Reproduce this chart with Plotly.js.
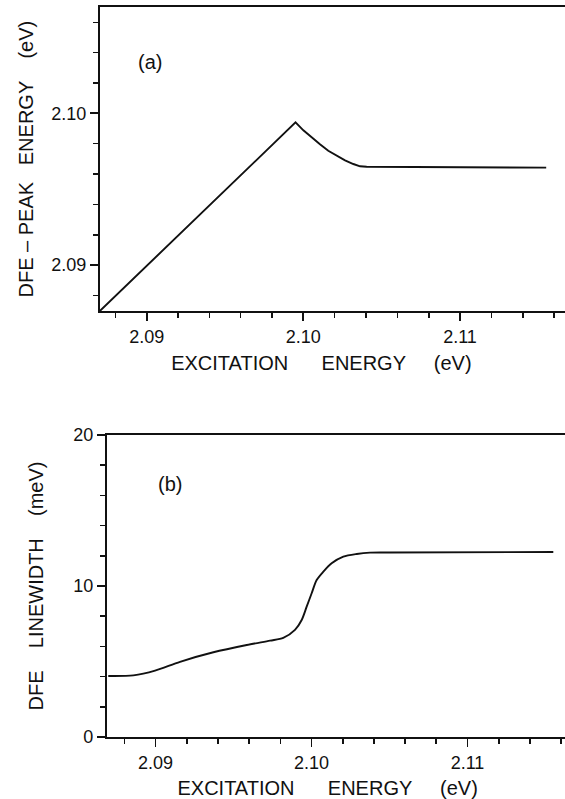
<!DOCTYPE html>
<html>
<head>
<meta charset="utf-8">
<script src="https://cdn.plot.ly/plotly-3.0.1.min.js"></script>
<style>
  html, body { margin: 0; padding: 0; background: #fff; }
  #chart { width: 565px; height: 799px; }
</style>
</head>
<body>
<div id="chart"></div>
<script>
// Panel (a): DFE peak energy vs excitation energy (eV)
const excA = [2.08702, 2.0995, 2.10000, 2.10053, 2.10106, 2.10159, 2.10213, 2.10266, 2.10319, 2.10362, 2.10404, 2.1155];
const peakA = [2.08698, 2.0994, 2.09888, 2.09839, 2.09796, 2.09753, 2.09719, 2.09690, 2.09666, 2.09651, 2.09648, 2.09642];

// Panel (b): DFE linewidth (meV) vs excitation energy (eV)
const excB = [2.08697, 2.08858, 2.08997, 2.09157, 2.09371, 2.09585, 2.09734, 2.09819, 2.09894,
              2.09937, 2.09969, 2.10001, 2.10033, 2.10076, 2.10129, 2.10204, 2.10290, 2.10375,
              2.10503, 2.1155];
const widthB = [4.04, 4.08, 4.39, 4.98, 5.61, 6.09, 6.38, 6.56, 7.09,
                7.75, 8.63, 9.52, 10.40, 10.95, 11.50, 11.94, 12.12, 12.21,
                12.22, 12.25];

const xTickVals = [2.09, 2.10, 2.11];
const xTickText = ['2.09', '2.10', '2.11'];
const yTickValsA = [2.09, 2.10];
const yTickTextA = ['2.09', '2.10'];
const yTickValsB = [0, 10, 20];
const yTickTextB = ['0', '10', '20'];

const NB = '\u00a0';
const sp = n => NB.repeat(n);
const ZW = '\u200b';

const ink = '#111111';
const font = {family: '"Liberation Sans", Arial, Helvetica, sans-serif', color: ink};

const W = 565, H = 799;

const traces = [
  {x: excA, y: peakA, xaxis: 'x', yaxis: 'y', mode: 'lines', type: 'scatter',
   line: {color: ink, width: 1.9}, hoverinfo: 'skip', showlegend: false},
  {x: excB, y: widthB, xaxis: 'x2', yaxis: 'y2', mode: 'lines', type: 'scatter',
   line: {color: ink, width: 1.9, shape: 'spline', smoothing: 0.8}, hoverinfo: 'skip', showlegend: false}
];

function xAxis(domain, range, anchor, titleText) {
  return {
    domain: domain, range: range, anchor: anchor,
    showline: true, linecolor: ink, linewidth: 2.2, mirror: true,
    ticks: 'outside', ticklen: 8, tickwidth: 1.8, tickcolor: ink,
    tickvals: xTickVals, ticktext: xTickText,
    minor: {dtick: 0.002, tick0: 2.09, ticks: 'outside', ticklen: 5, tickwidth: 1.6, tickcolor: ink, showgrid: false},
    showgrid: false, zeroline: false,
    tickfont: Object.assign({size: 18}, font),
    title: {text: titleText, font: Object.assign({size: 20}, font), standoff: 10}
  };
}
function yAxis(domain, range, anchor, tv, tt, minorD, titleText, standoff) {
  return {
    domain: domain, range: range, anchor: anchor,
    showline: true, linecolor: ink, linewidth: 2.2, mirror: false,
    ticks: 'outside', ticklen: 8, tickwidth: 1.8, tickcolor: ink,
    tickvals: tv, ticktext: tt,
    minor: {dtick: minorD, tick0: 0, ticks: 'outside', ticklen: 5, tickwidth: 1.6, tickcolor: ink, showgrid: false},
    showgrid: false, zeroline: false,
    tickfont: Object.assign({size: 18}, font),
    title: {text: titleText, font: Object.assign({size: 20}, font), standoff: standoff}
  };
}

const layout = {
  width: W, height: H,
  margin: {l: 0, r: 0, t: 0, b: 0},
  paper_bgcolor: '#ffffff', plot_bgcolor: '#ffffff',
  showlegend: false,
  xaxis: xAxis([100 / W, 1], [2.08702, 2.1167], 'y',
    'EXCITATION' + sp(6) + 'ENERGY' + sp(5) + '(eV)' + sp(4) + ZW),
  yaxis: yAxis([1 - 311 / H, 1 - 7.3 / H], [2.08697, 2.10699], 'x', yTickValsA, yTickTextA, 0.002,
    'DFE – PEAK' + sp(3) + 'ENERGY' + sp(4) + '(eV)', 12),
  xaxis2: xAxis([107 / W, 1], [2.08689, 2.11625], 'y2',
    'EXCITATION' + sp(6) + 'ENERGY' + sp(5) + '(eV)' + sp(3) + ZW),
  yaxis2: yAxis([1 - 737 / H, 1 - 435 / H], [0, 20], 'x2', yTickValsB, yTickTextB, 2,
    'DFE' + sp(4) + 'LINEWIDTH' + sp(4) + '(meV)', 24),
  annotations: [
    {text: '(a)', xref: 'paper', yref: 'paper', x: 150 / W, y: 1 - 62 / H,
     xanchor: 'center', yanchor: 'middle', showarrow: false, font: Object.assign({size: 20}, font)},
    {text: '(b)', xref: 'paper', yref: 'paper', x: 170 / W, y: 1 - 484 / H,
     xanchor: 'center', yanchor: 'middle', showarrow: false, font: Object.assign({size: 20}, font)}
  ]
};

Plotly.newPlot('chart', traces, layout, {staticPlot: true, displayModeBar: false});
</script>
</body>
</html>
